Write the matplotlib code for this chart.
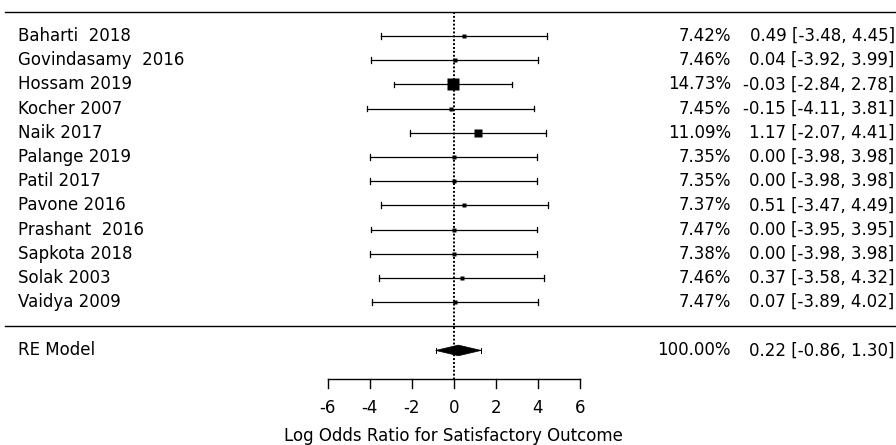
import matplotlib
matplotlib.use("agg")
import matplotlib.pyplot as plt
import numpy as np

# study data
studies = ["Baharti  2018", "Govindasamy  2016", "Hossam 2019", "Kocher 2007",
           "Naik 2017", "Palange 2019", "Patil 2017", "Pavone 2016",
           "Prashant  2016", "Sapkota 2018", "Solak 2003", "Vaidya 2009"]
weights = [7.42, 7.46, 14.73, 7.45, 11.09, 7.35, 7.35, 7.37, 7.47, 7.38, 7.46, 7.47]
est = [0.49, 0.04, -0.03, -0.15, 1.17, 0.00, 0.00, 0.51, 0.00, 0.00, 0.37, 0.07]
ci_lo = [-3.48, -3.92, -2.84, -4.11, -2.07, -3.98, -3.98, -3.47, -3.95, -3.98, -3.58, -3.89]
ci_hi = [4.45, 3.99, 2.78, 3.81, 4.41, 3.98, 3.98, 4.49, 3.95, 3.98, 4.32, 4.02]

re_label = "RE Model"
re_weight = 100.00
re_est, re_lo, re_hi = 0.22, -0.86, 1.30

xticks = [-6, -4, -2, 0, 2, 4, 6]
xlabel = "Log Odds Ratio for Satisfactory Outcome"

plt.rcParams['font.family'] = ['DejaVu Sans']
FS = 12

fig = plt.figure(figsize=(8.96, 4.45), dpi=100)
ax = fig.add_axes([0, 0, 1, 1])
ax.set_xlim(-21.61, 21.06)
ax.set_ylim(-4.91, 13.49)
ax.axis("off")

k = len(studies)
rows = np.arange(k, 0, -1)
wmin, wmax = min(weights), max(weights)
tick_h = 0.12

# horizontal rules
ax.plot([-21.37, 21.06], [13, 13], color="black", lw=1.0)
ax.plot([-21.37, 21.06], [0, 0], color="black", lw=1.0)

# reference line at zero
ax.plot([0, 0], [13, -2.2], color="black", lw=1.4, ls=(0, (1, 1)), zorder=1)

for y, name, w, e, lo, hi in zip(rows, studies, weights, est, ci_lo, ci_hi):
    ax.plot([lo, hi], [y, y], color="black", lw=0.9, zorder=2)
    ax.plot([lo, lo], [y - tick_h, y + tick_h], color="black", lw=0.9, zorder=2)
    ax.plot([hi, hi], [y - tick_h, y + tick_h], color="black", lw=0.9, zorder=2)
    size_px = 4 + (w - wmin) / (wmax - wmin) * 8
    ax.plot(e, y, marker="s", ms=size_px * 0.72, color="black",
            mec="none", zorder=3)
    ax.text(-20.75, y, name, ha="left", va="center", fontsize=FS)
    ax.text(13.2, y, "%.2f%%" % w, ha="right", va="center", fontsize=FS)
    ax.text(21.0, y, "%.2f [%.2f, %.2f]" % (e, lo, hi),
            ha="right", va="center", fontsize=FS)

# summary diamond
yr = -1
ax.plot([re_lo, re_hi], [yr, yr], color="black", lw=0.7, zorder=2)
ax.plot([re_lo, re_lo], [yr - tick_h, yr + tick_h], color="black", lw=0.7)
ax.plot([re_hi, re_hi], [yr - tick_h, yr + tick_h], color="black", lw=0.7)
ax.fill([re_lo, re_est, re_hi, re_est], [yr, yr + 0.22, yr, yr - 0.22],
        color="black", lw=0.5, zorder=3)
ax.text(-20.75, yr, re_label, ha="left", va="center", fontsize=FS)
ax.text(13.2, yr, "%.2f%%" % re_weight, ha="right", va="center", fontsize=FS)
ax.text(21.0, yr, "%.2f [%.2f, %.2f]" % (re_est, re_lo, re_hi),
        ha="right", va="center", fontsize=FS)

# x axis drawn by hand, forest-plot style
ya = -2.2
ax.plot([xticks[0], xticks[-1]], [ya, ya], color="black", lw=1.0)
for t in xticks:
    ax.plot([t, t], [ya, ya - 0.37], color="black", lw=1.0)
    ax.text(t, -3.39, "%d" % t, ha="center", va="center", fontsize=FS)
ax.text(0, -4.55, xlabel, ha="center", va="center", fontsize=FS)

fig.savefig("out.png", dpi=100)
